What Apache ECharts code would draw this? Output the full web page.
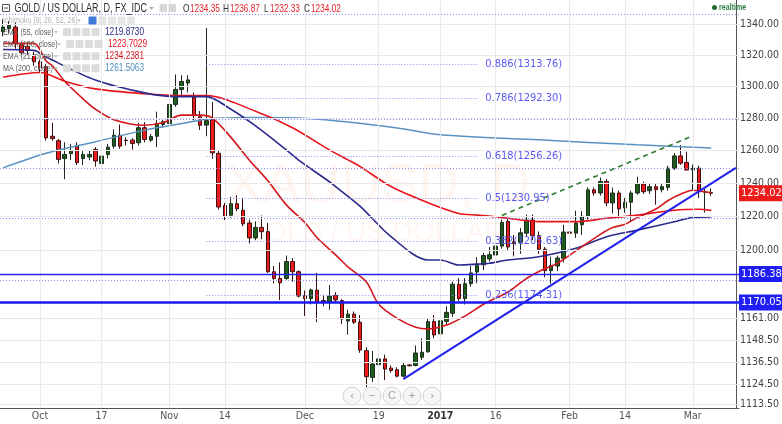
<!DOCTYPE html>
<html>
<head>
<meta charset="utf-8">
<script src="https://cdn.jsdelivr.net/npm/echarts@6/dist/echarts.min.js"></script>
<style>
html,body{margin:0;padding:0;background:#ffffff;}
#chart{width:782px;height:424px;}
</style>
</head>
<body>
<div id="chart"></div>
<script>
// ---------- categories ----------
const dates = [
 '2016-09-23','2016-09-26','2016-09-27','2016-09-28','2016-09-29','2016-09-30',
 '2016-10-03','2016-10-04','2016-10-05','2016-10-06','2016-10-07',
 '2016-10-10','2016-10-11','2016-10-12','2016-10-13','2016-10-14',
 '2016-10-17','2016-10-18','2016-10-19','2016-10-20','2016-10-21',
 '2016-10-24','2016-10-25','2016-10-26','2016-10-27','2016-10-28','2016-10-31',
 '2016-11-01','2016-11-02','2016-11-03','2016-11-04',
 '2016-11-07','2016-11-08','2016-11-09','2016-11-10','2016-11-11',
 '2016-11-14','2016-11-15','2016-11-16','2016-11-17','2016-11-18',
 '2016-11-21','2016-11-22','2016-11-23','2016-11-24','2016-11-25',
 '2016-11-28','2016-11-29','2016-11-30',
 '2016-12-01','2016-12-02',
 '2016-12-05','2016-12-06','2016-12-07','2016-12-08','2016-12-09',
 '2016-12-12','2016-12-13','2016-12-14','2016-12-15','2016-12-16',
 '2016-12-19','2016-12-20','2016-12-21','2016-12-22','2016-12-23',
 '2016-12-26','2016-12-27','2016-12-28','2016-12-29','2016-12-30',
 '2017-01-03','2017-01-04','2017-01-05','2017-01-06',
 '2017-01-09','2017-01-10','2017-01-11','2017-01-12','2017-01-13',
 '2017-01-16','2017-01-17','2017-01-18','2017-01-19','2017-01-20',
 '2017-01-23','2017-01-24','2017-01-25','2017-01-26','2017-01-27',
 '2017-01-30','2017-01-31',
 '2017-02-01','2017-02-02','2017-02-03',
 '2017-02-06','2017-02-07','2017-02-08','2017-02-09','2017-02-10',
 '2017-02-13','2017-02-14','2017-02-15','2017-02-16','2017-02-17',
 '2017-02-20','2017-02-21','2017-02-22','2017-02-23','2017-02-24',
 '2017-02-27','2017-02-28',
 '2017-03-01','2017-03-02','2017-03-03','2017-03-06',
 '2017-03-07','2017-03-08','2017-03-09','2017-03-10'
];

// ---------- OHLC ----------
const open = [
 1335,1337,1338,1326.5,1325.5,1319.9,1315.6,1312.4,1268.7,1266,
 1255,1258,1262.6,1255,1256,1260.6,1252,1257.5,1262.6,1269.3,
 1266.3,1266.3,1264.7,1274,1266.3,1268.7,1276,1276.6,1288.5,1297.9,
 1302,1293,1280.8,1275.6,1279,1258.2,1226.6,1220.8,1227.7,1223.8,
 1216.2,1207.4,1213.6,1211.1,1187.7,1183.8,1183.8,1193.6,1187.7,1173.9,
 1172.2,1177.0,1171.1,1170.2,1174.1,1171.1,1159.5,1163.4,1158.8,1142.9,
 1128.1,1135.1,1138.3,1133.2,1132.3,1128.8,1135.0,1134.7,1139.2,1142.3,
 1159.2,1152.3,1159.3,1163.9,1180.4,1172.2,1180.8,1187.5,1191.7,1195.1,
 1197.4,1202.6,1217.2,1205.1,1204.9,1210.2,1218.0,1208.7,1200.8,1188.3,
 1191.0,1195.5,1210.9,1210.2,1215.2,1220.2,1236.0,1234.1,1241.1,1228.2,
 1234.1,1225.2,1228.6,1234.1,1239.5,1235.5,1237.9,1236.1,1237.5,1249.1,
 1256.6,1252.6,1248.0,1249.1,1234.5,1234.35
];
const close = [
 1338,1339,1327.5,1321.3,1322.8,1315.6,1311.4,1267.7,1267.3,1254.5,
 1257.5,1260,1252.5,1257.5,1257.5,1253.5,1256.5,1262,1269.3,1262.6,
 1266,1264.2,1274,1266.7,1268.5,1276.6,1277.7,1288.5,1298,1303,
 1304,1281.5,1275.5,1278.4,1258.5,1225.7,1220.2,1227.7,1224.7,1215.7,
 1207.4,1213.6,1211.1,1187.7,1183.8,1181.3,1193.6,1187.7,1173.7,1172.2,
 1177.2,1170.6,1170.2,1173.7,1171.5,1160.7,1163.4,1158.8,1143.2,1128.5,
 1135.5,1138.3,1132.7,1131.9,1128.8,1134.7,1134.5,1141.6,1142.0,1159.2,
 1151.7,1159.6,1164.4,1180.5,1172.2,1180.8,1187.0,1192.0,1197.1,1197.6,
 1202.6,1216.5,1202.1,1204.1,1210.4,1218.0,1208.7,1200.8,1188.3,1191.3,
 1195.6,1210.9,1210.2,1216.2,1220.2,1236.0,1234.1,1241.1,1228.2,1234.1,
 1224.6,1228.6,1234.1,1239.5,1234.9,1237.9,1236.1,1237.9,1249.1,1256.6,
 1252.2,1248.0,1249.1,1234.8,1235.0,1234.02
];
const low = [
 1332,1334,1324,1319,1319.8,1313,1309,1266,1266,1252,
 1242.4,1254,1251,1251,1254,1250,1250,1255,1261,1261,
 1263,1260.5,1263,1265,1265.3,1262,1274,1275,1287,1294,
 1296,1278.5,1272.6,1268.7,1255,1224.2,1218.0,1219.2,1223.2,1214.2,
 1204.1,1206.1,1206.6,1187.0,1181.0,1171.4,1183.0,1182.0,1172.9,1162.4,
 1168.9,1158.9,1167.9,1165.9,1169.9,1157.8,1151.8,1157.8,1141.7,1122.7,
 1125.6,1133.7,1126.6,1130.7,1128.1,1128.1,1134.2,1134.2,1137.7,1141.7,
 1149.8,1149.8,1156.8,1161.9,1170.9,1168.9,1179.0,1181.0,1188.6,1193.6,
 1195.1,1201.1,1200.1,1196.6,1198.1,1208.1,1206.1,1198.1,1184.5,1180.8,
 1188.0,1193.1,1198.4,1207.4,1209.2,1218.2,1232.5,1232.5,1226.2,1221.9,
 1219.9,1222.2,1216.9,1233.1,1233.5,1233.5,1227.1,1234.5,1235.5,1248.0,
 1251.2,1248.0,1235.5,1231.0,1222.4,1232.33
];
const high = [
 1343,1342,1341,1328,1328.4,1322,1317,1314,1277,1267,
 1265,1264,1265,1260,1260,1262,1259,1264,1273,1276,
 1268,1267.5,1277,1277.5,1270,1284,1280,1290,1307.5,1307,
 1307,1296,1284.4,1337.4,1290,1259.7,1228.2,1231.8,1232.8,1231.2,
 1218.2,1217.2,1220.7,1216.2,1191.0,1193.1,1197.1,1195.6,1188.5,1176.9,
 1178.0,1187.0,1174.4,1180.0,1175.9,1171.9,1165.9,1164.9,1162.9,1144.7,
 1142.7,1142.7,1140.7,1134.7,1133.7,1136.2,1135.2,1145.8,1149.8,1160.9,
 1162.9,1162.9,1167.9,1182.0,1184.0,1184.0,1191.0,1196.1,1198.6,1202.1,
 1205.1,1218.2,1219.2,1209.1,1213.2,1221.2,1221.2,1211.2,1202.1,1196.4,
 1197.1,1215.2,1214.0,1223.5,1223.2,1237.5,1237.5,1243.5,1242.5,1237.4,
 1235.5,1231.2,1235.5,1244.0,1241.0,1239.5,1239.5,1239.5,1250.7,1258.4,
 1263.3,1259.2,1251.3,1250.7,1236.5,1236.87
];

// ---------- indicator lines (read at selected bars: [bar index, price]) ----------
const ema21 = [[0,1327.4],[5,1327.4],[7,1316],[8,1313],[10,1303.2],[13,1292],[15,1285.5],[18,1279],[23,1275.5],[26,1277.2],[29,1281.8],[32,1281.8],[34,1280],[37,1268],[40,1254],[43,1241.5],[46,1227],[49,1216.5],[51,1207.5],[54,1197.5],[56,1190.5],[59,1181.8],[61,1169],[64,1161],[67,1156],[69,1155],[72,1157.2],[75,1162.3],[78,1169],[80,1172.5],[82,1176],[85,1183.8],[88,1189.5],[90,1192.5],[93,1199.8],[97,1209.5],[99,1213.5],[101,1215.5],[103,1219.4],[106,1224.5],[108,1229.6],[110,1233.3],[112,1235.8],[115,1234.24]];
const ema100 = [[0,1305.7],[6,1308.7],[10,1303.2],[15,1298.3],[23,1295.2],[29,1294.1],[33,1294.1],[41,1284.3],[47,1274],[53,1260.3],[56,1254.2],[58,1250.1],[63,1238],[69,1228.3],[74,1221.9],[77,1220.9],[80,1219.9],[82,1219],[87,1217],[93,1217],[98,1219],[103,1220.9],[109,1223.8],[113,1224.4],[115,1223.7]];
const ema55 = [[0,1323.5],[5,1322.9],[7,1318.6],[15,1303.9],[23,1295.8],[28,1293.4],[33,1293.4],[37,1285.5],[41,1275.1],[46,1260.3],[48,1254.1],[53,1240.9],[54,1238],[58,1226.1],[63,1208.1],[69,1194.5],[71,1194.5],[74,1191.6],[77,1192.1],[79,1192.6],[82,1194.5],[87,1196.4],[93,1201.3],[98,1208.1],[103,1212],[109,1217],[112,1219.5],[115,1219.87]];
const ma200 = [[0,1249.3],[7,1258.2],[15,1265.3],[23,1272.5],[29,1276.6],[34,1279.7],[41,1280.3],[48,1280],[56,1277.5],[64,1273.8],[71,1269.6],[87,1266.5],[103,1263.4],[115,1261.51]];

// ---------- axis ticks ----------
const yTicks = [1340,1320,1300,1280,1260,1240,1220,1200,1161,1148.5,1136.5,1124.5,1113.5];
const xTickLabels = {'2016-10-03':'Oct','2016-10-17':'17','2016-11-01':'Nov','2016-11-14':'14','2016-12-01':'Dec','2016-12-19':'19','2017-01-03':'2017','2017-01-16':'16','2017-02-01':'Feb','2017-02-14':'14','2017-03-01':'Mar'};

// ---------- drawings ----------
const fibLevels = [['0.886',1313.76],['0.786',1292.30],['0.618',1256.26],['0.5',1230.95],['0.382',1205.63],['0.236',1174.31]];
const fibSpan = ['2016-11-09','2017-01-11'];
const dottedLevels = [1346.54,1279.41,1249.05,1219.17,1182.5];
const solidLevels = [1186.38,1170.05];
const lastPrice = 1234.02;
const upTrend = [['2016-12-23',1127.2],['2017-03-10',1249.3]];
const channelLine = [['2017-01-17',1220.7],['2017-03-01',1268.98]];
const legendRows = [
  ['EMA (55, close)','1219.8730','#2b2a8c'],
  ['EMA (100, close)','1223.7029','#e8141c'],
  ['EMA (21, close)','1234.2381','#d4161c'],
  ['MA (200, close)','1261.5063','#4f8bbd']
];
const header = {title:'GOLD / US DOLLAR, D, FX_IDC', o:'1234.35', h:'1236.87', l:'1232.33', c:'1234.02'};

// ---------- build ----------
const NARROW = "'Liberation Sans Narrow','Arial Narrow','DejaVu Sans Condensed',Arial,sans-serif";
const ARIAL = "Arial,'Liberation Sans',sans-serif";
const chart = echarts.init(document.getElementById('chart'), null, {renderer:'canvas'});

const nData = open.length;
const candles = [];
for (let i = 0; i < nData; i++) candles.push([open[i], close[i], low[i], high[i]]);
const toCat = arr => arr.map(p => [dates[p[0]], p[1]]);

function helper(name, markLine, z) {
  return {type:'line', name, data:[], silent:true, z, animation:false,
    markLine: Object.assign({symbol:['none','none'], silent:true, animation:false}, markLine)};
}

const series = [
  helper('vgrid', {lineStyle:{color:'#e9e9e9', width:1, type:'solid'}, label:{show:false},
    data: Object.keys(xTickLabels).map(d => ({xAxis:d}))}, 0),
  helper('hgrid', {lineStyle:{color:'#e9e9e9', width:1, type:'solid'}, label:{show:false},
    data: yTicks.map(v => ({yAxis:v}))}, 0),
  helper('dotted', {lineStyle:{color:'#8c8cff', width:1, type:[1,2]}, label:{show:false},
    data: dottedLevels.map(v => ({yAxis:v}))}, 1),
  helper('fib', {lineStyle:{color:'#8c8cff', width:1, type:[1,2]},
    label:{show:true, position:'end', formatter:'{b}', color:'#5a5af2', fontSize:11, fontFamily:NARROW, distance:8, padding:[7,0,0,0]},
    data: fibLevels.map(f => [{name: f[0]+'('+f[1].toFixed(2)+')', coord:[fibSpan[0], f[1]]}, {coord:[fibSpan[1], f[1]]}])}, 1),
  {type:'candlestick', name:'XAUUSD', data:candles, barWidth:4, z:3, animation:false,
    itemStyle:{color:'#1d5e1d', color0:'#ee1b1b', borderColor:'#1f2a1f', borderColor0:'#3a1010', borderColorDoji:'#222', borderWidth:1}},
  {type:'line', name:'MA200', data:toCat(ma200), showSymbol:false, smooth:0.3, z:4, animation:false,
    lineStyle:{color:'#5a92c2', width:1.5}},
  {type:'line', name:'EMA100', data:toCat(ema100), showSymbol:false, smooth:0.3, z:4, animation:false,
    lineStyle:{color:'#e8141c', width:1.6}},
  {type:'line', name:'EMA55', data:toCat(ema55), showSymbol:false, smooth:0.3, z:4, animation:false,
    lineStyle:{color:'#2b2a8c', width:1.6}},
  {type:'line', name:'EMA21', data:toCat(ema21), showSymbol:false, smooth:0.3, z:4, animation:false,
    lineStyle:{color:'#d4161c', width:1.6}},
  helper('solid', {
    label:{show:true, position:'end', distance:0, color:'#fff', fontSize:11, fontFamily:NARROW, padding:[3,2,2,2], backgroundColor:'#1f1ff5', formatter: p => p.value.toFixed(2)},
    data:[{yAxis:solidLevels[0], lineStyle:{color:'#2424f0', width:1.3, type:'solid'}},
          {yAxis:solidLevels[1], lineStyle:{color:'#1818f2', width:2.6, type:'solid'}}]}, 5),
  helper('lastPrice', {
    lineStyle:{color:'rgba(0,0,0,0)', width:0},
    label:{show:true, position:'end', distance:0, color:'#fff', fontSize:11, fontFamily:NARROW, padding:[3,2,2,2], backgroundColor:'#ee1b1b', formatter: p => p.value.toFixed(2)},
    data:[{yAxis:lastPrice}]}, 7),
  helper('trend', {
    label:{show:false},
    data:[
      [{coord:upTrend[0], lineStyle:{color:'#2020ee', width:2, type:'solid'}}, {coord:upTrend[1]}],
      [{coord:channelLine[0], lineStyle:{color:'#2f7a2f', width:1.6, type:[5,4]}}, {coord:channelLine[1]}]
    ]}, 6)
];

// ---------- overlay texts (header, legend, watermark, buttons) ----------
function txt(x, y, text, color, size, extra) {
  const el = {type:'text', x, y, scaleX:0.75, silent:true, z:100,
    style:{text, fill:color, font: size+'px '+ARIAL, verticalAlign:'middle'}};
  return Object.assign(el, extra || {});
}
function box(x, y, w, h, fill) {
  return {type:'rect', silent:true, z:100, shape:{x, y, width:w, height:h, r:1}, style:{fill}};
}
const g = [];
// watermark
g.push({type:'text', x:378, y:187, silent:true, z:-1, style:{text:'XAUUSD, D', fill:'rgba(255,130,70,0.07)', font:'56px '+ARIAL, align:'center', verticalAlign:'middle'}});
g.push({type:'text', x:374, y:233, silent:true, z:-1, style:{text:'GOLD / US DOLLAR', fill:'rgba(255,130,70,0.07)', font:'28px '+ARIAL, align:'center', verticalAlign:'middle'}});
// header
g.push({type:'rect', silent:true, z:100, shape:{x:2.5, y:4.5, width:7, height:7}, style:{fill:'#fff', stroke:'#555', lineWidth:1}});
g.push({type:'line', silent:true, z:100, shape:{x1:4, y1:8, x2:8, y2:8}, style:{stroke:'#555', lineWidth:1}});
g.push(txt(14.5, 8.8, header.title, '#2f2f2f', 12));
g.push({type:'polygon', silent:true, z:100, shape:{points:[[149,7],[154,7],[151.5,10]]}, style:{fill:'#b0b0b0'}});
g.push(box(159.5, 4, 7.5, 8, '#d8d8d8'));
g.push(box(168.5, 4, 7.5, 8, '#d8d8d8'));
g.push(txt(183, 8.8, 'O', '#333', 11));
g.push(txt(190, 8.8, header.o, '#e8222a', 11));
g.push(txt(223, 8.8, 'H', '#333', 11));
g.push(txt(230, 8.8, header.h, '#e8222a', 11));
g.push(txt(264, 8.8, 'L', '#333', 11));
g.push(txt(270, 8.8, header.l, '#e8222a', 11));
g.push(txt(304, 8.8, 'C', '#333', 11));
g.push(txt(311, 8.8, header.c, '#e8222a', 11));
// realtime
g.push({type:'circle', silent:true, z:100, shape:{cx:714.5, cy:7.5, r:2.5}, style:{fill:'#1e6b30'}});
g.push(txt(719, 7.8, 'realtime', '#2e7d40', 9.5, {style:{text:'realtime', fill:'#2e7d40', font:'bold 9.5px '+ARIAL, verticalAlign:'middle'}}));
// ichimoku row
g.push(txt(3, 20.5, 'Ichimoku (9, 26, 52, 26)', '#b5b5b5', 9.5));
g.push({type:'polygon', silent:true, z:100, shape:{points:[[77,19.5],[81,19.5],[79,22]]}, style:{fill:'#c8c8c8'}});
g.push(box(88.5, 16.5, 8, 8, '#3f78d8'));
[98.5,108,117.5,127].forEach(x => g.push(box(x, 16.5, 8, 8, '#e6e6e6')));
// indicator rows
legendRows.forEach((r, k) => {
  const y = 32 + k*12.1;
  const w = r[0].length > 15 ? 3 : 0;
  g.push(txt(3, y, r[0], '#5a5a5a', 9.5));
  g.push({type:'polygon', silent:true, z:100, shape:{points:[[54+w,y-1],[58+w,y-1],[56+w,y+1.5]]}, style:{fill:'#c0c0c0'}});
  [63,72.5,82,91.5].forEach(x => g.push(box(x+w, y-4, 8, 8, '#dcdcdc')));
  g.push(txt(105+w, y, r[1], r[2], 11));
});
// navigation buttons
const btn = ['‹','−','C','+','›'];
btn.forEach((s, k) => {
  const cx = 352 + k*20;
  g.push({type:'circle', silent:true, z:50, shape:{cx, cy:396, r:9}, style:{fill:'rgba(245,245,245,0.9)', stroke:'#d4d4d4', lineWidth:1}});
  g.push({type:'text', silent:true, z:51, x:cx, y:396, style:{text:s, fill:'#a0a0a0', font:'11px '+ARIAL, align:'center', verticalAlign:'middle'}});
});

const option = {
  animation:false,
  backgroundColor:'#ffffff',
  grid:{left:-0.13, right:31.53, top:0, bottom:16, containLabel:false},
  xAxis:{type:'category', data:dates, boundaryGap:true,
    axisLine:{show:true, lineStyle:{color:'#555', width:1}},
    axisTick:{show:false},
    splitLine:{show:false},
    axisLabel:{interval:0, margin:3, fontSize:10.5, color:'#555', fontFamily:NARROW,
      formatter: v => xTickLabels[v] ? (xTickLabels[v] === '2017' ? '{b|2017}' : xTickLabels[v]) : '',
      rich:{b:{fontWeight:'bold', fontSize:10.5, color:'#333', fontFamily:NARROW}}}},
  yAxis:{type:'log', logBase:10, position:'right', offset:-3,
    min:1111.41, max:1355.76,
    axisLine:{show:true, lineStyle:{color:'#555', width:1}},
    axisTick:{show:true, length:3, customValues:yTicks, lineStyle:{color:'#555'}},
    axisLabel:{customValues:yTicks, formatter: v => Number(v).toFixed(2), color:'#444', fontSize:10.5, margin:4, fontFamily:NARROW},
    splitLine:{show:false}},
  graphic:{elements:g},
  series
};
chart.setOption(option);
</script>
</body>
</html>
